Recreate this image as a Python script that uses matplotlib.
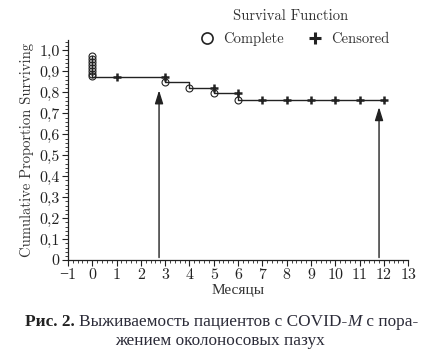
import matplotlib.pyplot as plt
from matplotlib.ticker import MultipleLocator, FuncFormatter

# Kaplan-Meier step curve (months, cumulative proportion surviving)
step_t = [0, 3, 3, 4, 4, 5, 5, 6, 6, 12]
step_s = [0.875, 0.875, 0.85, 0.85, 0.822, 0.822, 0.795, 0.795, 0.766, 0.766]

# complete (event) observations
complete_t = [0, 0, 0, 0, 0, 0, 0, 0, 3, 4, 5, 6]
complete_s = [0.975, 0.961, 0.947, 0.933, 0.918, 0.904, 0.89, 0.876, 0.85, 0.822, 0.795, 0.766]

# censored observations
censored_t = [1, 3, 5, 6, 7, 8, 9, 10, 11, 12]
censored_s = [0.875, 0.875, 0.822, 0.795, 0.766, 0.766, 0.766, 0.766, 0.766, 0.766]

# arrows: x, tip y
arrow_x = [2.75, 11.8]
arrow_tip = [0.81, 0.73]

plt.rcParams['font.family'] = ['cmr10', 'Liberation Serif']
plt.rcParams['axes.formatter.use_mathtext'] = True

fig = plt.figure(figsize=(4.27, 3.51), dpi=100)
ax = fig.add_axes([0.159, 0.259, 0.797, 0.627])

line_c = '#222222'
ax.plot([0, 0], [complete_s[0], 0.875], color=line_c, lw=1.0, zorder=2)
ax.plot(step_t, step_s, color=line_c, lw=1.0, zorder=2)
ax.plot(complete_t, complete_s, 'o', ms=5, mfc='none', mec=line_c, mew=0.8, ls='none', zorder=3)
ax.plot(censored_t, censored_s, '+', ms=6, mec=line_c, mew=1.8, ls='none', zorder=3)

for x, tip in zip(arrow_x, arrow_tip):
    ax.annotate('', xy=(x, tip), xytext=(x, 0.012),
                arrowprops=dict(arrowstyle='-|>,head_length=0.8,head_width=0.25',
                                color=line_c, lw=1.0, shrinkA=0, shrinkB=0))

ax.set_xlim(-1, 13)
ax.set_ylim(0, 1.05)
ax.xaxis.set_major_locator(MultipleLocator(1))
ax.xaxis.set_minor_locator(MultipleLocator(0.2))
ax.yaxis.set_major_locator(MultipleLocator(0.1))
ax.yaxis.set_minor_locator(MultipleLocator(0.02))
ax.yaxis.set_major_formatter(FuncFormatter(
    lambda v, p: '0' if abs(v) < 1e-9 else ('%.1f' % v).replace('.', ',')))
ax.xaxis.set_major_formatter(FuncFormatter(lambda v, p: '%d' % v if v >= 0 else '\u2212%d' % -v))
ax.tick_params(which='major', direction='out', length=4, width=0.8, labelsize=11.5, colors='#222222', pad=2)
ax.tick_params(which='minor', direction='out', length=2, width=0.6, colors='#222222')
for s in ['top', 'right']:
    ax.spines[s].set_visible(False)
for s in ['left', 'bottom']:
    ax.spines[s].set_linewidth(0.9)
    ax.spines[s].set_color('#222222')

ax.set_ylabel('Cumulative Proportion Surviving', fontsize=10.5, color='#333333', labelpad=4)
ax.set_xlabel('Месяцы', fontsize=11, color='#333333', labelpad=1,
              family=['Liberation Serif'])

# legend above the axes
fig.text(0.68, 0.955, 'Survival Function', ha='center', va='center', fontsize=10.5, color='#333333')
ax.plot([], [], 'o', ms=8, mfc='none', mec=line_c, mew=1.2, label='Complete')
ax.plot([], [], '+', ms=9, mec=line_c, mew=2.2, label='Censored')
h, l = ax.get_legend_handles_labels()
fig.legend(h, l, loc='center', bbox_to_anchor=(0.69, 0.888), ncol=2, frameon=False,
           fontsize=10.5, handlelength=1.0, handletextpad=0.6, columnspacing=1.6,
           labelcolor='#333333')

# caption, placed piece by piece
cap_c = '#2b2b38'
pieces = [('Рис. 2. ', dict(fontweight='bold', color='#222222')),
          ('Выживаемость пациентов с COVID-', dict(color=cap_c)),
          ('M', dict(color=cap_c, style='italic')),
          (' с пора-', dict(color=cap_c))]
renderer = fig.canvas.get_renderer()
x0, y1 = 25, 351 - 322
x = x0
for txt, kw in pieces:
    t = fig.text(x / 427, y1 / 351, txt, fontsize=12.4, family=['Liberation Serif'],
                 va='center', ha='left', **kw)
    bb = t.get_window_extent(renderer)
    x += bb.width
fig.text(0.515, (351 - 341) / 351, 'жением околоносовых пазух', fontsize=12.4, color=cap_c,
         family=['Liberation Serif'], va='center', ha='center')

fig.savefig('out.png', dpi=100)
